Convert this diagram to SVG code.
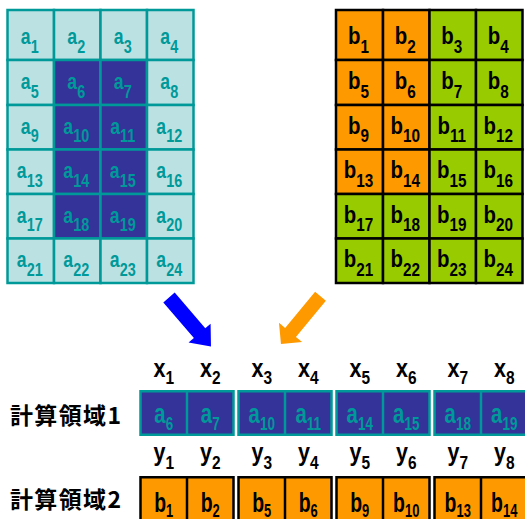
<svg xmlns="http://www.w3.org/2000/svg" width="525" height="519" viewBox="0 0 525 519">
<style>
.al{fill:#BBE1E3;stroke:#009999;stroke-width:2.5}
.ad{fill:#333399;stroke:#009999;stroke-width:2.5}
.bo{fill:#FF9900;stroke:#000;stroke-width:2.5}
.bg{fill:#99CC00;stroke:#000;stroke-width:2.5}
.ta{font-family:"Liberation Sans",Arial,sans-serif;font-weight:bold;font-size:22px;fill:#009999;text-anchor:middle}
.tb{font-family:"Liberation Sans",Arial,sans-serif;font-weight:bold;font-size:24px;fill:#000;text-anchor:middle}
.s{font-size:18px}
.tx{font-family:"Liberation Sans",Arial,sans-serif;font-weight:bold;font-size:25px;fill:#000;text-anchor:middle}
.ta2{font-family:"Liberation Sans",Arial,sans-serif;font-weight:bold;font-size:27px;fill:#009999;text-anchor:middle}
.tb2{font-family:"Liberation Sans",Arial,sans-serif;font-weight:bold;font-size:27px;fill:#000;text-anchor:middle}
.jp{font-family:"Noto Sans CJK JP","Noto Sans CJK SC",sans-serif;font-weight:bold;font-size:23px;fill:#000}
.gb{fill:#333399;stroke:#009999;stroke-width:2.5}
.go{fill:#FF9900;stroke:#000;stroke-width:2.5}
</style>
<g id="gridA">
<g id="a1"><rect class="al" x="7.5" y="10" width="46.5" height="50"/><text class="ta" transform="translate(29.75,44) scale(0.8,1)">a<tspan class="s" dy="8.5">1</tspan></text></g>
<g id="a2"><rect class="al" x="54" y="10" width="46.5" height="50"/><text class="ta" transform="translate(76.25,44) scale(0.8,1)">a<tspan class="s" dy="8.5">2</tspan></text></g>
<g id="a3"><rect class="al" x="100.5" y="10" width="46.5" height="50"/><text class="ta" transform="translate(122.75,44) scale(0.8,1)">a<tspan class="s" dy="8.5">3</tspan></text></g>
<g id="a4"><rect class="al" x="147" y="10" width="46.5" height="50"/><text class="ta" transform="translate(169.25,44) scale(0.8,1)">a<tspan class="s" dy="8.5">4</tspan></text></g>
<g id="a5"><rect class="al" x="7.5" y="60" width="46.5" height="45"/><text class="ta" transform="translate(29.75,89) scale(0.8,1)">a<tspan class="s" dy="8.5">5</tspan></text></g>
<g id="a6"><rect class="ad" x="54" y="60" width="46.5" height="45"/><text class="ta" transform="translate(76.25,89) scale(0.8,1)">a<tspan class="s" dy="8.5">6</tspan></text></g>
<g id="a7"><rect class="ad" x="100.5" y="60" width="46.5" height="45"/><text class="ta" transform="translate(122.75,89) scale(0.8,1)">a<tspan class="s" dy="8.5">7</tspan></text></g>
<g id="a8"><rect class="al" x="147" y="60" width="46.5" height="45"/><text class="ta" transform="translate(169.25,89) scale(0.8,1)">a<tspan class="s" dy="8.5">8</tspan></text></g>
<g id="a9"><rect class="al" x="7.5" y="105" width="46.5" height="44.5"/><text class="ta" transform="translate(29.75,133.5) scale(0.8,1)">a<tspan class="s" dy="8.5">9</tspan></text></g>
<g id="a10"><rect class="ad" x="54" y="105" width="46.5" height="44.5"/><text class="ta" transform="translate(76.25,133.5) scale(0.8,1)">a<tspan class="s" dy="8.5">10</tspan></text></g>
<g id="a11"><rect class="ad" x="100.5" y="105" width="46.5" height="44.5"/><text class="ta" transform="translate(122.75,133.5) scale(0.8,1)">a<tspan class="s" dy="8.5">11</tspan></text></g>
<g id="a12"><rect class="al" x="147" y="105" width="46.5" height="44.5"/><text class="ta" transform="translate(169.25,133.5) scale(0.8,1)">a<tspan class="s" dy="8.5">12</tspan></text></g>
<g id="a13"><rect class="al" x="7.5" y="149.5" width="46.5" height="44.5"/><text class="ta" transform="translate(29.75,178) scale(0.8,1)">a<tspan class="s" dy="8.5">13</tspan></text></g>
<g id="a14"><rect class="ad" x="54" y="149.5" width="46.5" height="44.5"/><text class="ta" transform="translate(76.25,178) scale(0.8,1)">a<tspan class="s" dy="8.5">14</tspan></text></g>
<g id="a15"><rect class="ad" x="100.5" y="149.5" width="46.5" height="44.5"/><text class="ta" transform="translate(122.75,178) scale(0.8,1)">a<tspan class="s" dy="8.5">15</tspan></text></g>
<g id="a16"><rect class="al" x="147" y="149.5" width="46.5" height="44.5"/><text class="ta" transform="translate(169.25,178) scale(0.8,1)">a<tspan class="s" dy="8.5">16</tspan></text></g>
<g id="a17"><rect class="al" x="7.5" y="194" width="46.5" height="44.5"/><text class="ta" transform="translate(29.75,222.5) scale(0.8,1)">a<tspan class="s" dy="8.5">17</tspan></text></g>
<g id="a18"><rect class="ad" x="54" y="194" width="46.5" height="44.5"/><text class="ta" transform="translate(76.25,222.5) scale(0.8,1)">a<tspan class="s" dy="8.5">18</tspan></text></g>
<g id="a19"><rect class="ad" x="100.5" y="194" width="46.5" height="44.5"/><text class="ta" transform="translate(122.75,222.5) scale(0.8,1)">a<tspan class="s" dy="8.5">19</tspan></text></g>
<g id="a20"><rect class="al" x="147" y="194" width="46.5" height="44.5"/><text class="ta" transform="translate(169.25,222.5) scale(0.8,1)">a<tspan class="s" dy="8.5">20</tspan></text></g>
<g id="a21"><rect class="al" x="7.5" y="238.5" width="46.5" height="44.5"/><text class="ta" transform="translate(29.75,267) scale(0.8,1)">a<tspan class="s" dy="8.5">21</tspan></text></g>
<g id="a22"><rect class="al" x="54" y="238.5" width="46.5" height="44.5"/><text class="ta" transform="translate(76.25,267) scale(0.8,1)">a<tspan class="s" dy="8.5">22</tspan></text></g>
<g id="a23"><rect class="al" x="100.5" y="238.5" width="46.5" height="44.5"/><text class="ta" transform="translate(122.75,267) scale(0.8,1)">a<tspan class="s" dy="8.5">23</tspan></text></g>
<g id="a24"><rect class="al" x="147" y="238.5" width="46.5" height="44.5"/><text class="ta" transform="translate(169.25,267) scale(0.8,1)">a<tspan class="s" dy="8.5">24</tspan></text></g>
</g>
<g id="gridB">
<g id="b1"><rect class="bo" x="336" y="10" width="47" height="50"/><text class="tb" transform="translate(358.5,44) scale(0.85,1)">b<tspan class="s" dy="8.5">1</tspan></text></g>
<g id="b2"><rect class="bo" x="383" y="10" width="46.5" height="50"/><text class="tb" transform="translate(405.25,44) scale(0.85,1)">b<tspan class="s" dy="8.5">2</tspan></text></g>
<g id="b3"><rect class="bg" x="429.5" y="10" width="46.5" height="50"/><text class="tb" transform="translate(451.75,44) scale(0.85,1)">b<tspan class="s" dy="8.5">3</tspan></text></g>
<g id="b4"><rect class="bg" x="476" y="10" width="46.5" height="50"/><text class="tb" transform="translate(498.25,44) scale(0.85,1)">b<tspan class="s" dy="8.5">4</tspan></text></g>
<g id="b5"><rect class="bo" x="336" y="60" width="47" height="45"/><text class="tb" transform="translate(358.5,89) scale(0.85,1)">b<tspan class="s" dy="8.5">5</tspan></text></g>
<g id="b6"><rect class="bo" x="383" y="60" width="46.5" height="45"/><text class="tb" transform="translate(405.25,89) scale(0.85,1)">b<tspan class="s" dy="8.5">6</tspan></text></g>
<g id="b7"><rect class="bg" x="429.5" y="60" width="46.5" height="45"/><text class="tb" transform="translate(451.75,89) scale(0.85,1)">b<tspan class="s" dy="8.5">7</tspan></text></g>
<g id="b8"><rect class="bg" x="476" y="60" width="46.5" height="45"/><text class="tb" transform="translate(498.25,89) scale(0.85,1)">b<tspan class="s" dy="8.5">8</tspan></text></g>
<g id="b9"><rect class="bo" x="336" y="105" width="47" height="44.5"/><text class="tb" transform="translate(358.5,133.5) scale(0.85,1)">b<tspan class="s" dy="8.5">9</tspan></text></g>
<g id="b10"><rect class="bo" x="383" y="105" width="46.5" height="44.5"/><text class="tb" transform="translate(405.25,133.5) scale(0.85,1)">b<tspan class="s" dy="8.5">10</tspan></text></g>
<g id="b11"><rect class="bg" x="429.5" y="105" width="46.5" height="44.5"/><text class="tb" transform="translate(451.75,133.5) scale(0.85,1)">b<tspan class="s" dy="8.5">11</tspan></text></g>
<g id="b12"><rect class="bg" x="476" y="105" width="46.5" height="44.5"/><text class="tb" transform="translate(498.25,133.5) scale(0.85,1)">b<tspan class="s" dy="8.5">12</tspan></text></g>
<g id="b13"><rect class="bo" x="336" y="149.5" width="47" height="44.5"/><text class="tb" transform="translate(358.5,178) scale(0.85,1)">b<tspan class="s" dy="8.5">13</tspan></text></g>
<g id="b14"><rect class="bo" x="383" y="149.5" width="46.5" height="44.5"/><text class="tb" transform="translate(405.25,178) scale(0.85,1)">b<tspan class="s" dy="8.5">14</tspan></text></g>
<g id="b15"><rect class="bg" x="429.5" y="149.5" width="46.5" height="44.5"/><text class="tb" transform="translate(451.75,178) scale(0.85,1)">b<tspan class="s" dy="8.5">15</tspan></text></g>
<g id="b16"><rect class="bg" x="476" y="149.5" width="46.5" height="44.5"/><text class="tb" transform="translate(498.25,178) scale(0.85,1)">b<tspan class="s" dy="8.5">16</tspan></text></g>
<g id="b17"><rect class="bg" x="336" y="194" width="47" height="44.5"/><text class="tb" transform="translate(358.5,222.5) scale(0.85,1)">b<tspan class="s" dy="8.5">17</tspan></text></g>
<g id="b18"><rect class="bg" x="383" y="194" width="46.5" height="44.5"/><text class="tb" transform="translate(405.25,222.5) scale(0.85,1)">b<tspan class="s" dy="8.5">18</tspan></text></g>
<g id="b19"><rect class="bg" x="429.5" y="194" width="46.5" height="44.5"/><text class="tb" transform="translate(451.75,222.5) scale(0.85,1)">b<tspan class="s" dy="8.5">19</tspan></text></g>
<g id="b20"><rect class="bg" x="476" y="194" width="46.5" height="44.5"/><text class="tb" transform="translate(498.25,222.5) scale(0.85,1)">b<tspan class="s" dy="8.5">20</tspan></text></g>
<g id="b21"><rect class="bg" x="336" y="238.5" width="47" height="44.5"/><text class="tb" transform="translate(358.5,267) scale(0.85,1)">b<tspan class="s" dy="8.5">21</tspan></text></g>
<g id="b22"><rect class="bg" x="383" y="238.5" width="46.5" height="44.5"/><text class="tb" transform="translate(405.25,267) scale(0.85,1)">b<tspan class="s" dy="8.5">22</tspan></text></g>
<g id="b23"><rect class="bg" x="429.5" y="238.5" width="46.5" height="44.5"/><text class="tb" transform="translate(451.75,267) scale(0.85,1)">b<tspan class="s" dy="8.5">23</tspan></text></g>
<g id="b24"><rect class="bg" x="476" y="238.5" width="46.5" height="44.5"/><text class="tb" transform="translate(498.25,267) scale(0.85,1)">b<tspan class="s" dy="8.5">24</tspan></text></g>
</g>
<g id="connectors">
<path fill="#0000FF" d="M0,-7.5 H47 V-14.5 L64.5,0 L47,14.5 V7.5 H0 Z" transform="translate(169,297.5) rotate(49.4)"/>
<path fill="#FF9900" d="M0,-7 H47 V-15 L62,0 L47,15 V7 H0 Z" transform="translate(320.5,296.2) rotate(129.6)"/>
</g>
<g id="labels">
<text class="jp" x="10" y="423.5" textLength="111" lengthAdjust="spacing">計算領域1</text>
<text class="jp" x="10" y="508" textLength="111" lengthAdjust="spacing">計算領域2</text>
<text class="tx" transform="translate(163.75,376.5) scale(0.86,1)">x<tspan class="s" dy="7">1</tspan></text>
<text class="tx" transform="translate(210.25,376.5) scale(0.86,1)">x<tspan class="s" dy="7">2</tspan></text>
<text class="tx" transform="translate(261.75,376.5) scale(0.86,1)">x<tspan class="s" dy="7">3</tspan></text>
<text class="tx" transform="translate(308.25,376.5) scale(0.86,1)">x<tspan class="s" dy="7">4</tspan></text>
<text class="tx" transform="translate(359.75,376.5) scale(0.86,1)">x<tspan class="s" dy="7">5</tspan></text>
<text class="tx" transform="translate(406.25,376.5) scale(0.86,1)">x<tspan class="s" dy="7">6</tspan></text>
<text class="tx" transform="translate(457.75,376.5) scale(0.86,1)">x<tspan class="s" dy="7">7</tspan></text>
<text class="tx" transform="translate(504.25,376.5) scale(0.86,1)">x<tspan class="s" dy="7">8</tspan></text>
<text class="tx" transform="translate(163.75,461) scale(0.86,1)">y<tspan class="s" dy="8">1</tspan></text>
<text class="tx" transform="translate(210.25,461) scale(0.86,1)">y<tspan class="s" dy="8">2</tspan></text>
<text class="tx" transform="translate(261.75,461) scale(0.86,1)">y<tspan class="s" dy="8">3</tspan></text>
<text class="tx" transform="translate(308.25,461) scale(0.86,1)">y<tspan class="s" dy="8">4</tspan></text>
<text class="tx" transform="translate(359.75,461) scale(0.86,1)">y<tspan class="s" dy="8">5</tspan></text>
<text class="tx" transform="translate(406.25,461) scale(0.86,1)">y<tspan class="s" dy="8">6</tspan></text>
<text class="tx" transform="translate(457.75,461) scale(0.86,1)">y<tspan class="s" dy="8">7</tspan></text>
<text class="tx" transform="translate(504.25,461) scale(0.86,1)">y<tspan class="s" dy="8">8</tspan></text>
</g>
<g id="region1">
<g id="r1g1"><rect class="gb" x="140.5" y="391.25" width="93" height="43.5"/><line x1="187" y1="391.25" x2="187" y2="434.75" stroke="#009999" stroke-width="2.5"/>
<text class="ta2" transform="translate(163.75,423) scale(0.75,1)">a<tspan class="s" dy="6.5">6</tspan></text>
<text class="ta2" transform="translate(210.25,423) scale(0.75,1)">a<tspan class="s" dy="6.5">7</tspan></text></g>
<g id="r1g2"><rect class="gb" x="238.5" y="391.25" width="93" height="43.5"/><line x1="285" y1="391.25" x2="285" y2="434.75" stroke="#009999" stroke-width="2.5"/>
<text class="ta2" transform="translate(261.75,423) scale(0.75,1)">a<tspan class="s" dy="6.5">10</tspan></text>
<text class="ta2" transform="translate(308.25,423) scale(0.75,1)">a<tspan class="s" dy="6.5">11</tspan></text></g>
<g id="r1g3"><rect class="gb" x="336.5" y="391.25" width="93" height="43.5"/><line x1="383" y1="391.25" x2="383" y2="434.75" stroke="#009999" stroke-width="2.5"/>
<text class="ta2" transform="translate(359.75,423) scale(0.75,1)">a<tspan class="s" dy="6.5">14</tspan></text>
<text class="ta2" transform="translate(406.25,423) scale(0.75,1)">a<tspan class="s" dy="6.5">15</tspan></text></g>
<g id="r1g4"><rect class="gb" x="434.5" y="391.25" width="93" height="43.5"/><line x1="481" y1="391.25" x2="481" y2="434.75" stroke="#009999" stroke-width="2.5"/>
<text class="ta2" transform="translate(457.75,423) scale(0.75,1)">a<tspan class="s" dy="6.5">18</tspan></text>
<text class="ta2" transform="translate(504.25,423) scale(0.75,1)">a<tspan class="s" dy="6.5">19</tspan></text></g>
</g>
<g id="region2">
<g id="r2g1"><rect class="go" x="140.5" y="477.25" width="93" height="50"/><line x1="187" y1="477.25" x2="187" y2="527" stroke="#000" stroke-width="2.5"/>
<text class="tb2" transform="translate(163.75,511.5) scale(0.72,1)">b<tspan class="s" dy="5.5">1</tspan></text>
<text class="tb2" transform="translate(210.25,511.5) scale(0.72,1)">b<tspan class="s" dy="5.5">2</tspan></text></g>
<g id="r2g2"><rect class="go" x="238.5" y="477.25" width="93" height="50"/><line x1="285" y1="477.25" x2="285" y2="527" stroke="#000" stroke-width="2.5"/>
<text class="tb2" transform="translate(261.75,511.5) scale(0.72,1)">b<tspan class="s" dy="5.5">5</tspan></text>
<text class="tb2" transform="translate(308.25,511.5) scale(0.72,1)">b<tspan class="s" dy="5.5">6</tspan></text></g>
<g id="r2g3"><rect class="go" x="336.5" y="477.25" width="93" height="50"/><line x1="383" y1="477.25" x2="383" y2="527" stroke="#000" stroke-width="2.5"/>
<text class="tb2" transform="translate(359.75,511.5) scale(0.72,1)">b<tspan class="s" dy="5.5">9</tspan></text>
<text class="tb2" transform="translate(406.25,511.5) scale(0.72,1)">b<tspan class="s" dy="5.5">10</tspan></text></g>
<g id="r2g4"><rect class="go" x="434.5" y="477.25" width="93" height="50"/><line x1="481" y1="477.25" x2="481" y2="527" stroke="#000" stroke-width="2.5"/>
<text class="tb2" transform="translate(457.75,511.5) scale(0.72,1)">b<tspan class="s" dy="5.5">13</tspan></text>
<text class="tb2" transform="translate(504.25,511.5) scale(0.72,1)">b<tspan class="s" dy="5.5">14</tspan></text></g>
</g>
</svg>
